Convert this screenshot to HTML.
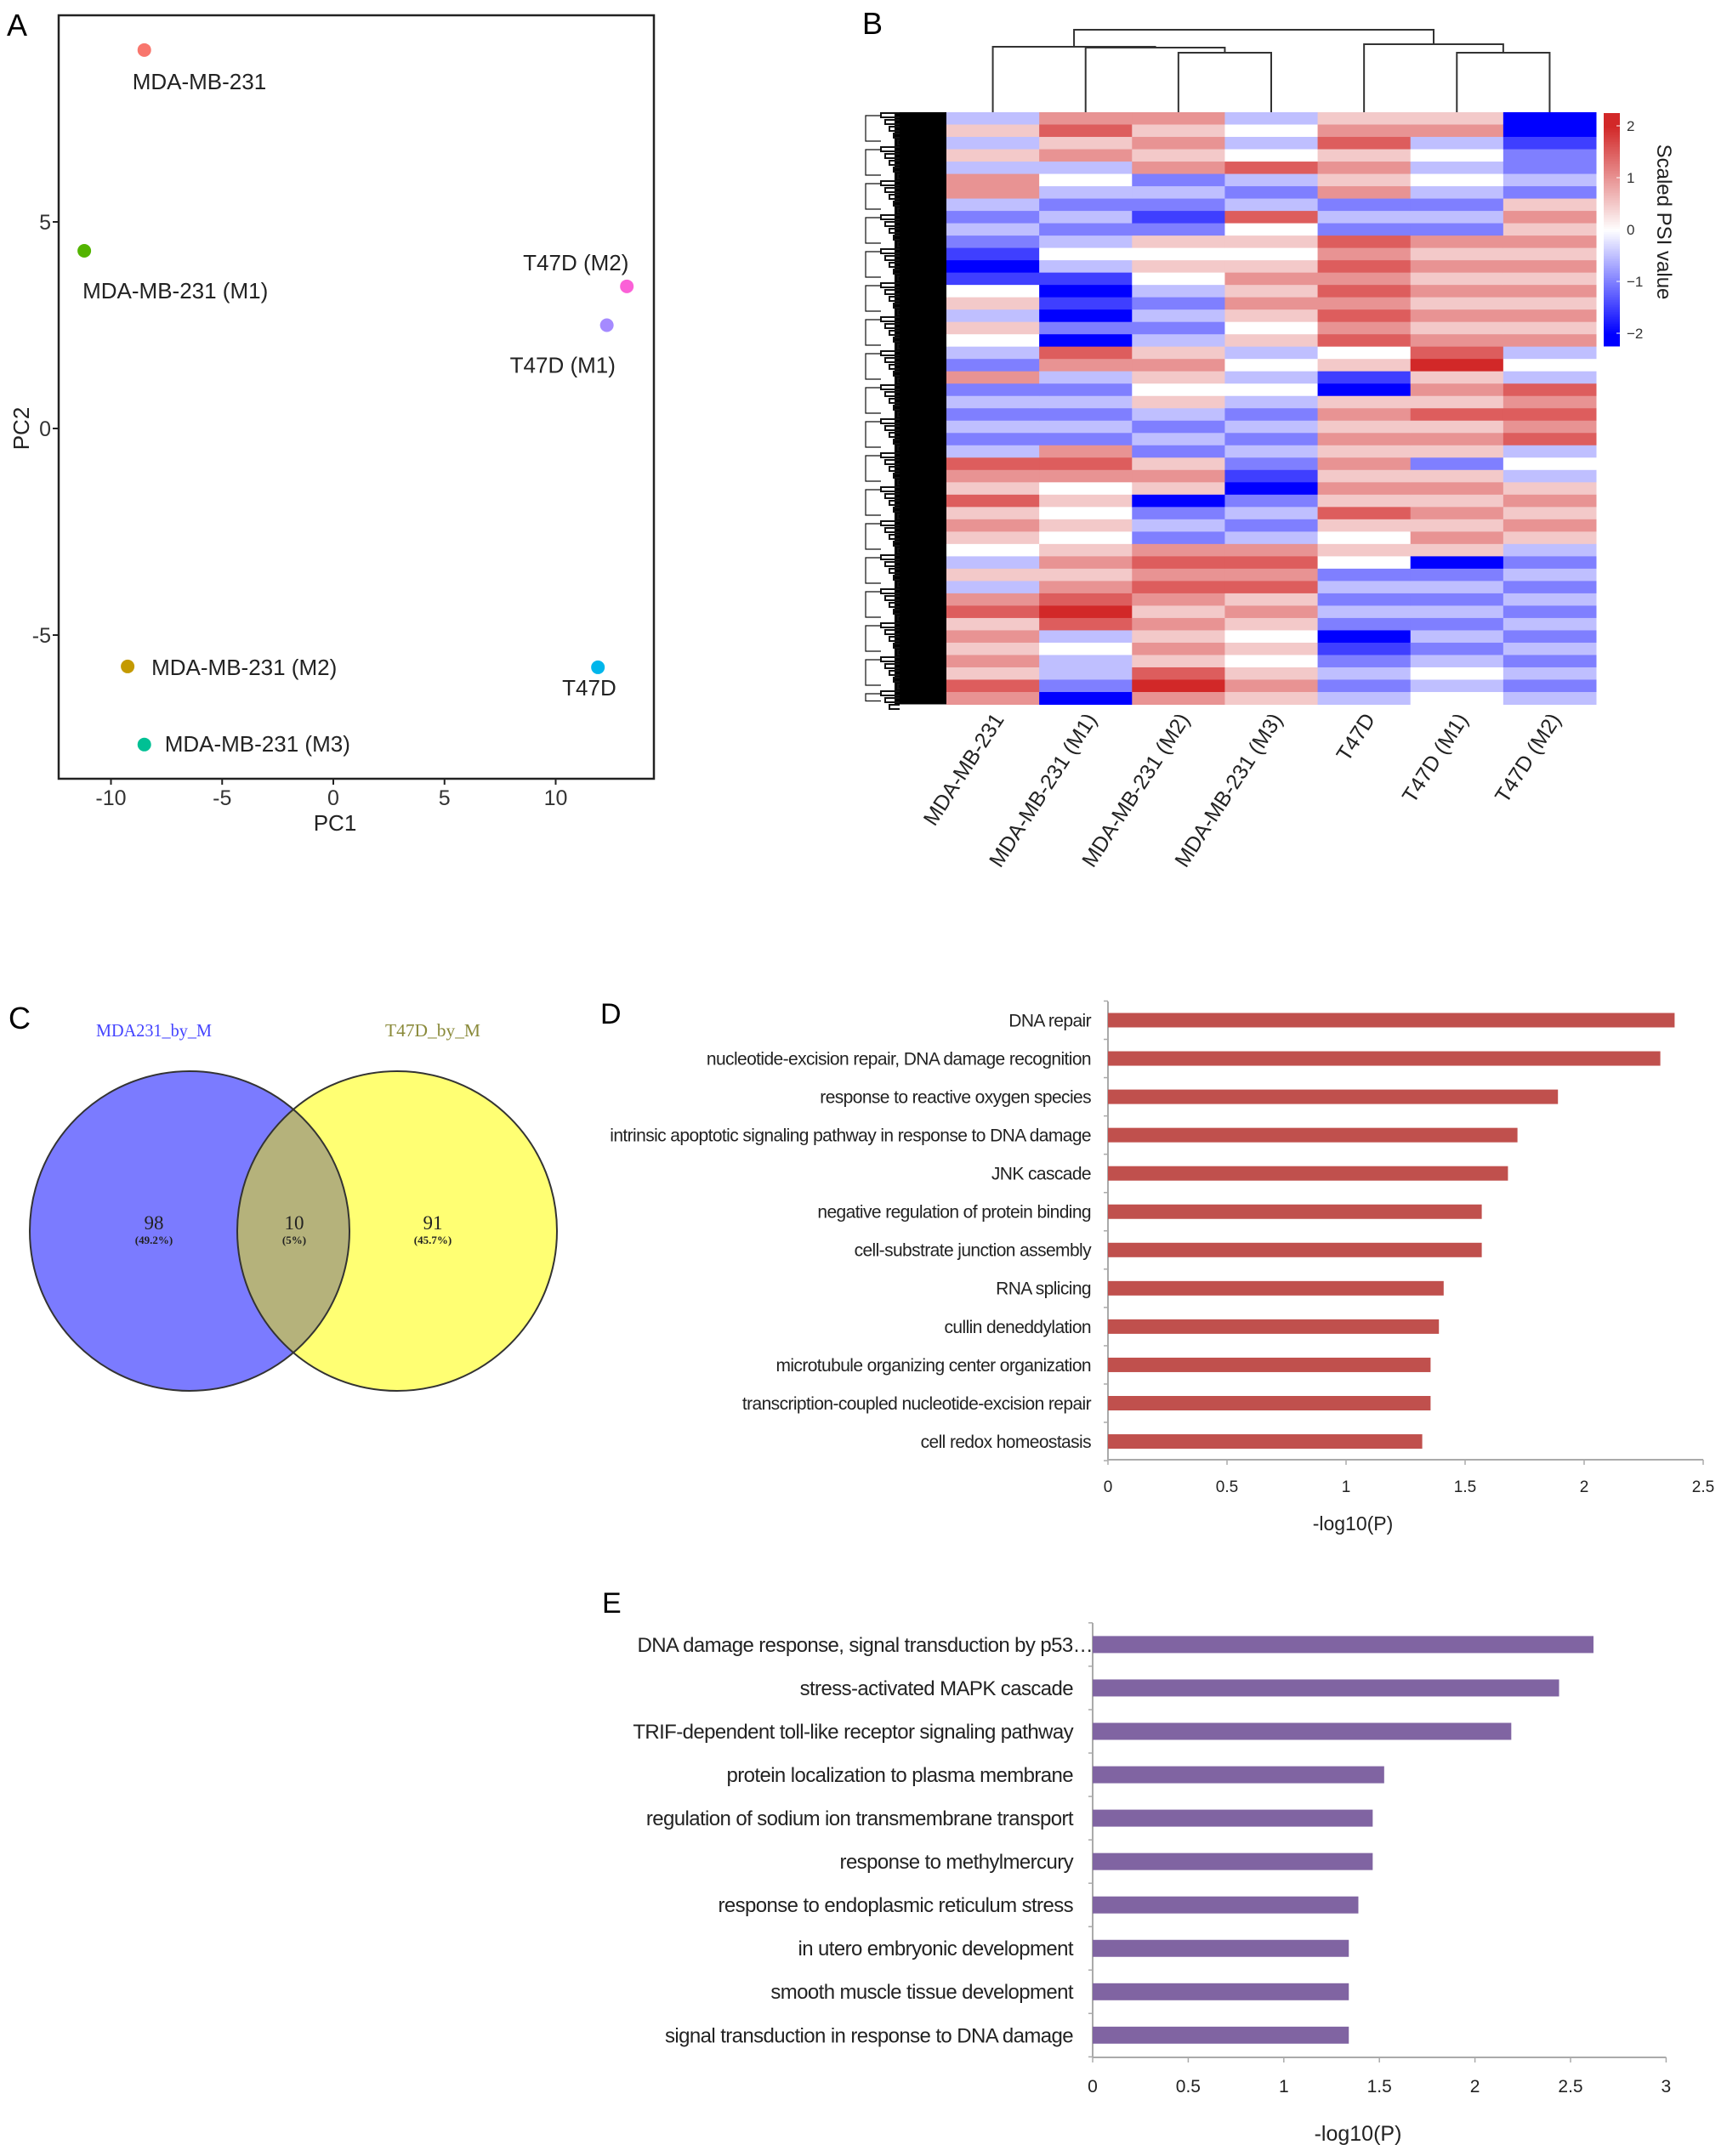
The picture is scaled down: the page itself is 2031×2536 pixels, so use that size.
<!DOCTYPE html>
<html><head><meta charset="utf-8"><style>
html,body{margin:0;padding:0;background:#fff}
svg{display:block}
text{font-family:"Liberation Sans",Arial,sans-serif}
.serif{font-family:"Liberation Serif",serif}
</style></head><body>
<svg id="fig" width="2031" height="2536" viewBox="0 0 2031 2536" xmlns="http://www.w3.org/2000/svg">
<rect width="2031" height="2536" fill="#fff"/>
<g id="pA"></g>
<g id="pB"></g>
<g id="pC"></g>
<g id="pD"></g>
<g id="pE"></g>
</svg>
<script>
const NS="http://www.w3.org/2000/svg";
// ---------- Panel A data ----------
const pcaLabels=["MDA-MB-231","MDA-MB-231 (M1)","T47D (M2)","T47D (M1)","MDA-MB-231 (M2)","MDA-MB-231 (M3)","T47D"];
const pcaX=[-8.5,-11.2,13.2,12.3,-9.25,-8.5,11.9];
const pcaY=[9.16,4.3,3.44,2.5,-5.76,-7.65,-5.78];
const pcaColors=["#f8766d","#53b400","#fb61d7","#a58aff","#c49a00","#00c094","#00b6eb"];
const pcaXTicks=[-10,-5,0,5,10];
const pcaYTicks=[5,0,-5];
// ---------- Panel B data ----------
const hmCols=["MDA-MB-231","MDA-MB-231 (M1)","MDA-MB-231 (M2)","MDA-MB-231 (M3)","T47D","T47D (M1)","T47D (M2)"];
const hmCol0="35353"+"66"+"3232"+"101"+"45354"+"32"+"6"+"232323"+"76"+"57565"+"4353"+"67565"+"6576";
const hmCol1="6756"+"343232343"+"101020"+"76"+"323232"+"676"+"45454"+"5656"+"787"+"343320";
const hmCol2="65656"+"23212"+"5454"+"32323"+"56545"+"3232"+"565"+"0"+"232"+"67676"+"56565"+"78"+"6";
const hmCol3="3434"+"7"+"323"+"7"+"454"+"5656545"+"34343"+"23232"+"10"+"2323"+"6767"+"565454565";
const hmCol4="56"+"7"+"5656"+"232"+"767676767"+"45"+"10"+"565656565"+"7"+"5454"+"23232"+"01"+"2323";
const hmCol5="56"+"34343232"+"656565656"+"78"+"565"+"7"+"565"+"2"+"5656565"+"0"+"2323232"+"3434";
const hmCol6="00"+"12232"+"565656565656"+"343"+"7"+"6767"+"343"+"56565"+"3232323232323";
const hmColorTicks=[2,1,0,-1,-2];
// ---------- Panel C data ----------
const vennSets=["MDA231_by_M","T47D_by_M"];
const vennCounts=[98,10,91];
const vennPct=["(49.2%)","(5%)","(45.7%)"];
// ---------- Panel D data ----------
const dTerms=["DNA repair","nucleotide-excision repair, DNA damage recognition","response to reactive oxygen species","intrinsic apoptotic signaling pathway in response to DNA damage","JNK cascade","negative regulation of protein binding","cell-substrate junction assembly","RNA splicing","cullin deneddylation","microtubule organizing center organization","transcription-coupled nucleotide-excision repair","cell redox homeostasis"];
const dValues=[2.38,2.32,1.89,1.72,1.68,1.57,1.57,1.41,1.39,1.355,1.355,1.32];
const dTicks=[0,0.5,1,1.5,2,2.5];
// ---------- Panel E data ----------
const eTerms=["DNA damage response, signal transduction by p53…","stress-activated MAPK cascade","TRIF-dependent toll-like receptor signaling pathway","protein localization to plasma membrane","regulation of sodium ion transmembrane transport","response to methylmercury","response to endoplasmic reticulum stress","in utero embryonic development","smooth muscle tissue development","signal transduction in response to DNA damage"];
const eValues=[2.62,2.44,2.19,1.525,1.465,1.465,1.39,1.34,1.34,1.34];
const eTicks=[0,0.5,1,1.5,2,2.5,3];

function el(parent,tag,attrs,txt){const e=document.createElementNS(NS,tag);for(const k in attrs)e.setAttribute(k,attrs[k]);if(txt!==undefined)e.textContent=txt;parent.appendChild(e);return e;}

// ===== Panel A =====
(function(){
const g=document.getElementById('pA');
const sx=v=>392+v*26.15, sy=v=>504-v*48.6;
let t=el(g,'text',{x:8,y:42,'font-size':36},'A');


let f=el(g,'rect',{x:69,y:18,width:700,height:898,fill:'none',stroke:'#222','stroke-width':2.5});


pcaXTicks.forEach(v=>{
  el(g,'line',{x1:sx(v),x2:sx(v),y1:916,y2:923,stroke:'#222','stroke-width':2});
  const tt=el(g,'text',{x:sx(v),y:947,'font-size':25,'text-anchor':'middle',fill:'#333'},String(v));
  
  
});
pcaYTicks.forEach(v=>{
  el(g,'line',{x1:62,x2:69,y1:sy(v),y2:sy(v),stroke:'#222','stroke-width':2});
  const tt=el(g,'text',{x:60,y:sy(v)+9,'font-size':25,'text-anchor':'end',fill:'#333'},String(v));
  
  
});
let xl=el(g,'text',{x:394,y:977,'font-size':26,'text-anchor':'middle',fill:'#222'},'PC1');


let yl=el(g,'text',{x:0,y:0,'font-size':26,'text-anchor':'middle',fill:'#222',transform:'translate(34,504) rotate(-90)'},'PC2');


const labOff=[[-14,37],[-2,47],[-122,-28],[-114,47],[28,1],[24,-1],[-42,24]];
pcaX.forEach((x,i)=>{
  const c=el(g,'circle',{cx:sx(x),cy:sy(pcaY[i]),r:8,fill:pcaColors[i]});
  
  
  const lt=el(g,'text',{x:sx(x)+labOff[i][0],y:sy(pcaY[i])+labOff[i][1]+9,'font-size':26,'text-anchor':'start',fill:'#222'},pcaLabels[i]);
  
  
});
})();

// ===== Panel B =====
(function(){
const g=document.getElementById('pB');
const cols=[hmCol0,hmCol1,hmCol2,hmCol3,hmCol4,hmCol5,hmCol6];
const L=1113,R=1877,T=132,B=828.5;
const cw=(R-L)/cols.length;
function color(v){
  let r,gg,b;
  if(v<0){const t=Math.min(1,-v/2);r=255*(1-t);gg=255*(1-t);b=255;}
  else{const t=Math.min(1,v/2);r=255+(210-255)*t;gg=255+(40-255)*t;b=255+(40-255)*t;}
  return `rgb(${r|0},${gg|0},${b|0})`;
}
let t=el(g,'text',{x:1014,y:40,'font-size':36},'B');


cols.forEach((s,ci)=>{
  const n=s.length, rh=(B-T)/n;
  for(let r=0;r<n;r++){
    const v=(parseInt(s[r])-4)/2;
    const c=el(g,'rect',{x:L+ci*cw,y:T+r*rh,width:cw+0.5,height:rh+0.5,fill:color(v)});
    
    
  }
});
const cx=i=>L+cw*(i+0.5);
const dend=el(g,'g',{stroke:'#333','stroke-width':2,fill:'none'});


function br(x1,x2,y,yl,yr){el(dend,'path',{d:`M${x1},${yl}V${y}H${x2}V${yr}`});}
const n23=(cx(2)+cx(3))/2, n123=(cx(1)+n23)/2, n0=(cx(0)+n123)/2;
const n56=(cx(5)+cx(6))/2, n456=(cx(4)+n56)/2;
br(cx(2),cx(3),62,T,T);
br(cx(1),n23,56,T,62);
br(cx(0),n123,55,T,56);
br(cx(5),cx(6),62,T,T);
br(cx(4),n56,52,T,62);
br(n0,n456,35,55,52);
const rd=el(g,'g',{stroke:'#111','stroke-width':1.2,fill:'none'});


el(rd,'rect',{x:1052,y:T,width:L-1052,height:B-T,fill:'#000',stroke:'none'});
for(let y=T;y<B;y+=8){
  const k=((y-T)/8)%5;
  const x0=1036+k*5;
  el(rd,'path',{d:`M1058,${y+1}H${x0}V${y+6}H1058`,'stroke-width':2});
}
for(let y=T;y<B;y+=40){el(rd,'path',{d:`M1036,${y+4}H1018V${Math.min(B-4,y+34)}H1036`});}
const cb=el(g,'g',{});


const cT=133,cB=407,c0=270,cu=61;
for(let y=cT;y<cB;y+=2){
  const v=(c0-y)/cu;
  el(cb,'rect',{x:1886,y:y,width:19,height:2.5,fill:color(v)});
}
hmColorTicks.forEach(v=>{
  el(cb,'line',{x1:1901,x2:1905,y1:c0-v*cu,y2:c0-v*cu,stroke:'#fff','stroke-width':1});
  const tt=el(cb,'text',{x:1913,y:c0-v*cu+6,'font-size':17,fill:'#333'},v<0?'\u2212'+(-v):String(v));
  
  
});
let ct=el(g,'text',{x:0,y:0,'font-size':24,'text-anchor':'middle',fill:'#222',transform:'translate(1949,261) rotate(90)'},'Scaled PSI value');


hmCols.forEach((c,i)=>{
  const tt=el(g,'text',{x:0,y:0,'font-size':25,'text-anchor':'end',fill:'#222',transform:`translate(${cx(i)+14},${846}) rotate(-57)`},c);
  
  
});
})();

// ===== Panel C =====
(function(){
const g=document.getElementById('pC');
let t=el(g,'text',{x:10,y:1210,'font-size':36},'C');


const a=el(g,'circle',{cx:223,cy:1448,r:188,fill:'#7b7bff'});


const b=el(g,'circle',{cx:467,cy:1448,r:188,fill:'#ffff73'});


const defs=el(g,'defs',{});
const cp=el(defs,'clipPath',{id:'clipA'});
el(cp,'circle',{cx:223,cy:1448,r:188});
const ov=el(g,'circle',{cx:467,cy:1448,r:188,fill:'#b5b27b','clip-path':'url(#clipA)'});


el(g,'circle',{cx:223,cy:1448,r:188,fill:'none',stroke:'#333','stroke-width':2});
el(g,'circle',{cx:467,cy:1448,r:188,fill:'none',stroke:'#333','stroke-width':2});
const l1=el(g,'text',{x:181,y:1219,'font-size':21,'text-anchor':'middle',fill:'#4444ff',class:'serif',textLength:136,lengthAdjust:'spacingAndGlyphs'},vennSets[0]);


const l2=el(g,'text',{x:509,y:1219,'font-size':21,'text-anchor':'middle',fill:'#8a8a3a',class:'serif',textLength:112,lengthAdjust:'spacingAndGlyphs'},vennSets[1]);


const xs=[181,346,509];
vennCounts.forEach((c,i)=>{
  const n=el(g,'text',{x:xs[i],y:1446,'font-size':23,'text-anchor':'middle',fill:'#222',class:'serif'},String(c));
  
  
  const p=el(g,'text',{x:xs[i],y:1463,'font-size':13,'text-anchor':'middle',fill:'#222',class:'serif','font-weight':'bold'},vennPct[i]);
  
  
});
})();

// ===== Bar charts =====
function barChart(gid,terms,values,ticks,o){
  const g=document.getElementById(gid);
  const sx=v=>o.x0+v*o.unit;
  const sy=i=>o.y0+i*o.step;
  let t=el(g,'text',{x:o.lx,y:o.ly,'font-size':34},o.letter);
  
  
  const ax=el(g,'line',{x1:o.x0,x2:o.x0,y1:o.top,y2:o.bottom,stroke:'#aaa','stroke-width':2});
  
  
  const xa=el(g,'line',{x1:o.x0,x2:sx(ticks[ticks.length-1]),y1:o.bottom,y2:o.bottom,stroke:'#aaa','stroke-width':2});
  
  
  for(let i=0;i<=terms.length;i++){
    const y=sy(i)-o.step/2;
    el(g,'line',{x1:o.x0-5,x2:o.x0,y1:y,y2:y,stroke:'#aaa','stroke-width':1.5});
  }
  ticks.forEach(v=>{
    el(g,'line',{x1:sx(v),x2:sx(v),y1:o.bottom,y2:o.bottom+6,stroke:'#aaa','stroke-width':1.5});
    const tt=el(g,'text',{x:sx(v),y:o.tickY,'font-size':o.tfs,'text-anchor':'middle',fill:'#222'},String(v));
    
    
  });
  terms.forEach((term,i)=>{
    const r=el(g,'rect',{x:o.x0,y:sy(i)-o.bh/2,width:sx(values[i])-o.x0,height:o.bh,fill:o.color});
    
    
    const lx=(i===0&&o.firstRight)?o.firstRight:o.labelRight;
    const tt=el(g,'text',{x:lx,y:sy(i)+o.fs*0.35,'font-size':o.fs,'text-anchor':'end',fill:'#222','letter-spacing':o.ls},term);
    
    
  });
  const xl=el(g,'text',{x:o.xlx,y:o.xly,'font-size':o.tfs+4,'text-anchor':'middle',fill:'#222'},'-log10(P)');
  
  
}
barChart('pD',dTerms,dValues,dTicks,{letter:'D',lx:706,ly:1204,x0:1303,unit:280,y0:1200,step:45.05,bh:17,top:1178,bottom:1717,tickY:1755,fs:21,tfs:19,ls:-0.6,labelRight:1283,xlx:1591,xly:1800,color:'#c0504d'});
barChart('pE',eTerms,eValues,eTicks,{letter:'E',lx:708,ly:1897,x0:1285,unit:224.8,y0:1934.4,step:51.05,bh:20,top:1909,bottom:2420,tickY:2461,fs:24,tfs:21,ls:-0.6,labelRight:1262,firstRight:1285,xlx:1597,xly:2518,color:'#8064a2'});
</script>
</body></html>
